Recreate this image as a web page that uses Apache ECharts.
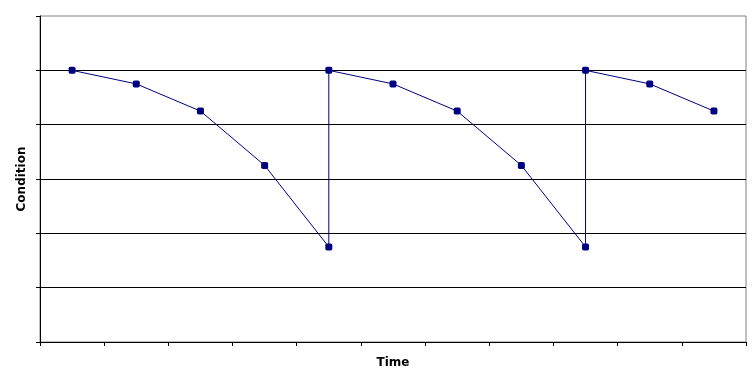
<!DOCTYPE html>
<html>
<head>
<meta charset="utf-8">
<script src="https://cdn.jsdelivr.net/npm/echarts@6/dist/echarts.min.js"></script>
<style>
html,body{margin:0;padding:0;background:#fff;}
#chart{width:754px;height:380px;}
</style>
</head>
<body>
<div id="chart"></div>
<script>
// Time positions (category centres on an 11-slot axis) and condition values
const timePos   = [0.5, 1.5, 2.5, 3.5, 4.5, 4.5, 5.5, 6.5, 7.5, 8.5, 8.5, 9.5, 10.5];
const condition = [5, 4.75, 4.25, 3.25, 1.75, 5, 4.75, 4.25, 3.25, 1.75, 5, 4.75, 4.25];
const xAxisName = 'Time';
const yAxisName = 'Condition';

const data = timePos.map((t, i) => [t, condition[i]]);
const font = '"DejaVu Sans", Verdana, sans-serif';

const chart = echarts.init(document.getElementById('chart'), null, {renderer: 'canvas'});
chart.setOption({
  animation: false,
  backgroundColor: '#ffffff',
  grid: {
    left: 40, top: 16, right: 8, bottom: 38,
    show: true, borderColor: '#808080', borderWidth: 1, backgroundColor: 'transparent'
  },
  xAxis: {
    type: 'value', min: 0, max: 11, interval: 1,
    name: xAxisName, nameLocation: 'middle', nameGap: 15,
    nameTextStyle: {fontFamily: font, fontWeight: 'bold', fontSize: 12, color: '#000'},
    axisLine: {show: true, onZero: false, lineStyle: {color: '#000', width: 1}},
    axisTick: {show: true, inside: false, length: 4, lineStyle: {color: '#000'}},
    axisLabel: {show: false},
    splitLine: {show: false}
  },
  yAxis: {
    type: 'value', min: 0, max: 6, interval: 1,
    name: yAxisName, nameLocation: 'middle', nameRotate: 90, nameGap: 12,
    nameTextStyle: {fontFamily: font, fontWeight: 'bold', fontSize: 12, color: '#000'},
    axisLine: {show: true, lineStyle: {color: '#000', width: 1}},
    axisTick: {show: true, inside: false, length: 4, lineStyle: {color: '#000'}},
    axisLabel: {show: false},
    splitLine: {show: true, showMinLine: false, showMaxLine: false, lineStyle: {color: '#000', width: 1}}
  },
  series: [{
    type: 'line',
    data: data,
    symbol: 'roundRect',
    symbolSize: 7,
    showAllSymbol: true,
    lineStyle: {color: '#000080', width: 1},
    itemStyle: {color: '#000080'},
    z: 5
  }]
});
</script>
</body>
</html>
